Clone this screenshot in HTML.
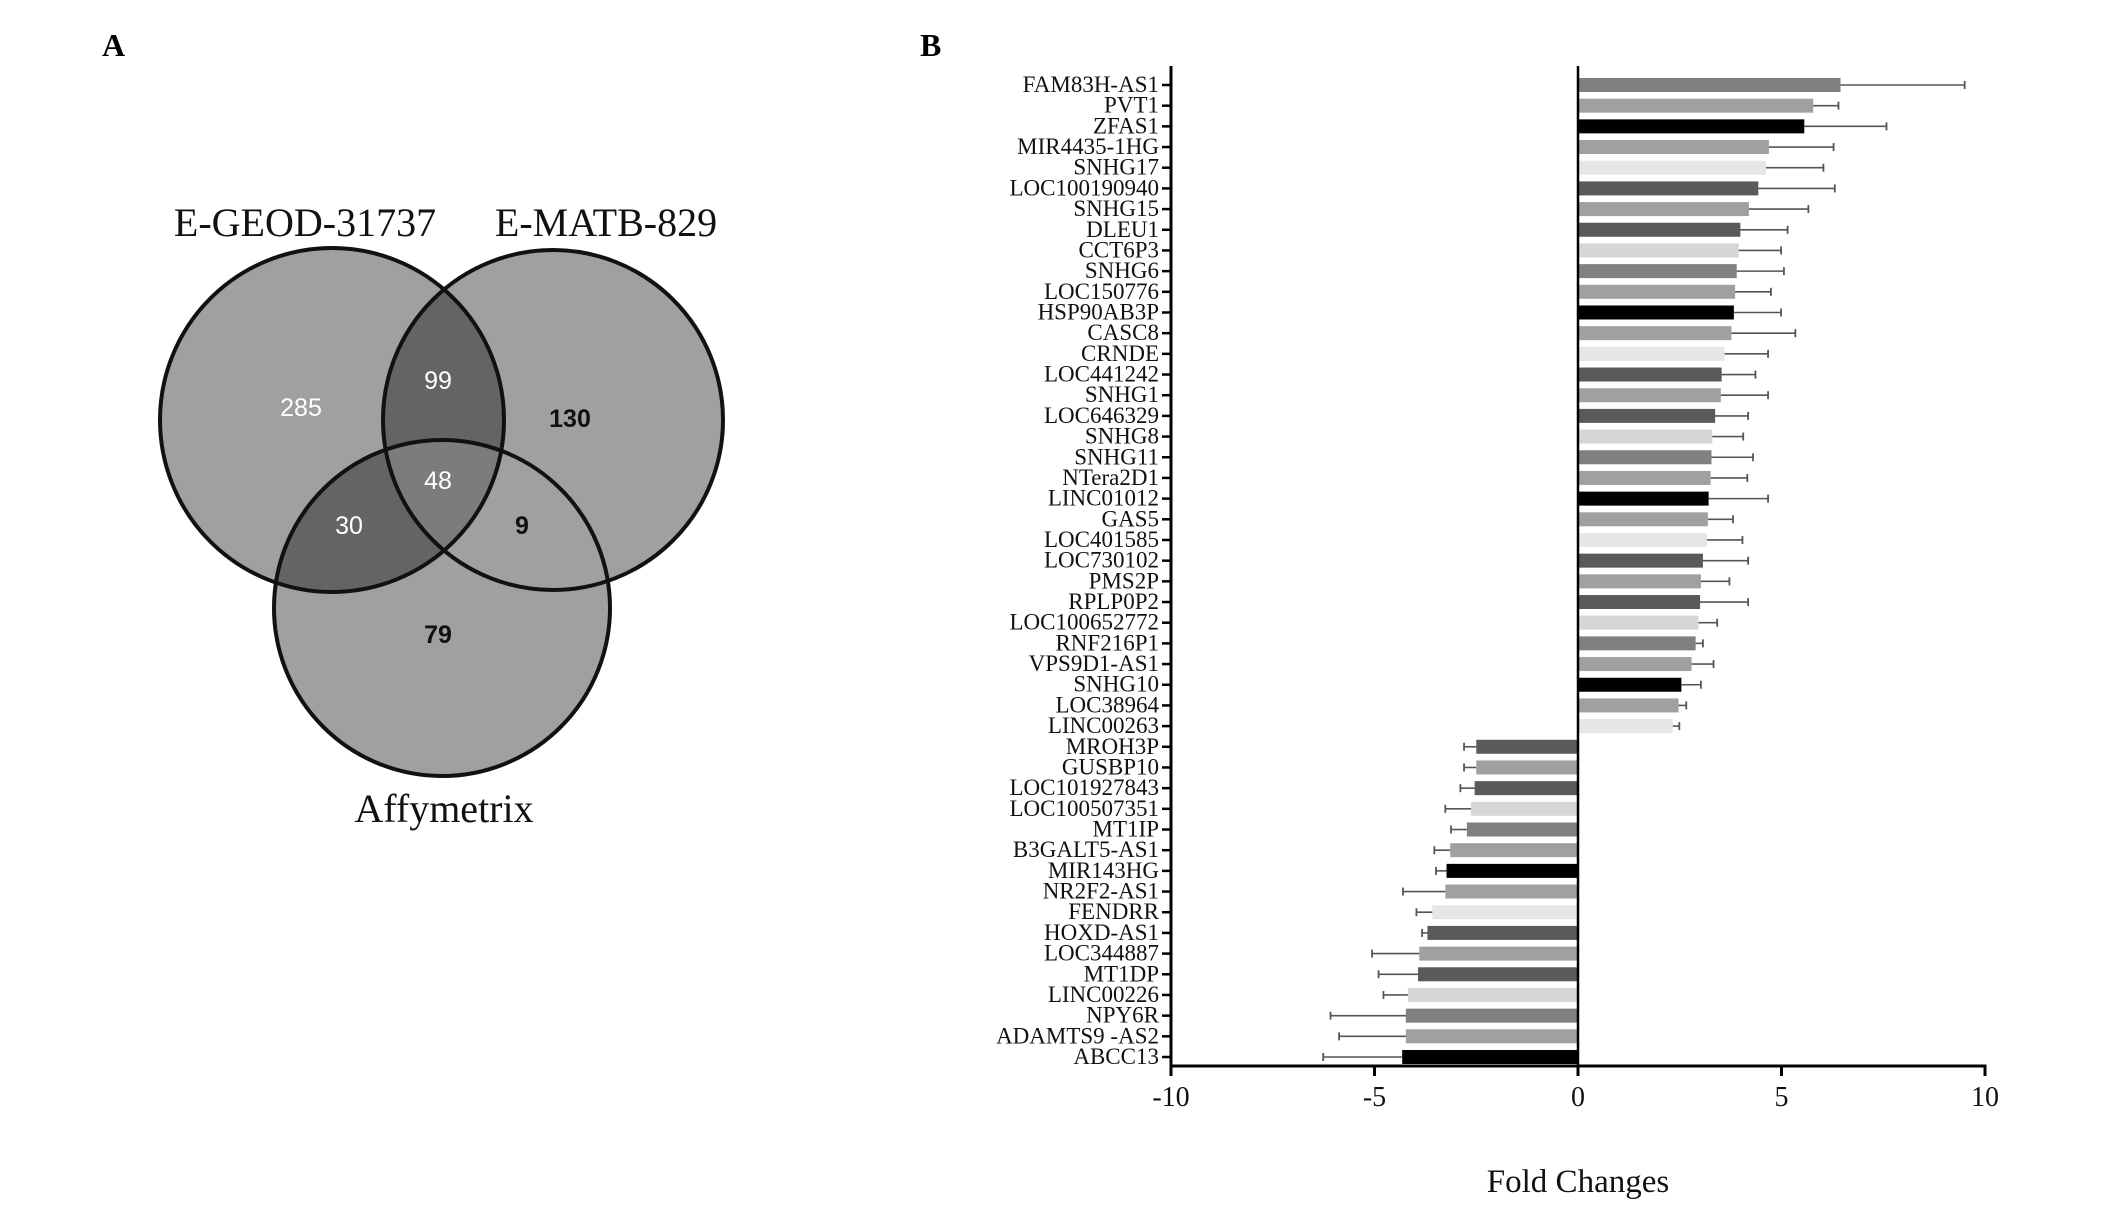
<!DOCTYPE html>
<html><head><meta charset="utf-8"><style>
html,body{margin:0;padding:0;background:#fff}
svg{display:block}
</style></head><body>
<svg id="fig" width="2126" height="1218" viewBox="0 0 2126 1218" xmlns="http://www.w3.org/2000/svg">
<rect width="2126" height="1218" fill="#fff"/>
<text x="102" y="56" font-family="Liberation Serif, serif" font-weight="bold" font-size="32">A</text>
<text x="920" y="56" font-family="Liberation Serif, serif" font-weight="bold" font-size="32">B</text>
<g>
<defs>
<clipPath id="cL"><circle cx="332" cy="420" r="172"/></clipPath>
<clipPath id="cR"><circle cx="553" cy="420" r="170"/></clipPath>
<clipPath id="cB"><circle cx="442" cy="608" r="168"/></clipPath>
</defs>
<circle cx="332" cy="420" r="172" fill="#a0a0a0"/>
<circle cx="553" cy="420" r="170" fill="#a0a0a0"/>
<circle cx="442" cy="608" r="168" fill="#a0a0a0"/>
<g clip-path="url(#cL)"><circle cx="553" cy="420" r="170" fill="#646464"/><circle cx="442" cy="608" r="168" fill="#646464"/></g>
<g clip-path="url(#cL)"><g clip-path="url(#cR)"><circle cx="442" cy="608" r="168" fill="#7c7c7c"/></g></g>
<circle cx="332" cy="420" r="172" fill="none" stroke="#111" stroke-width="4"/>
<circle cx="553" cy="420" r="170" fill="none" stroke="#111" stroke-width="4"/>
<circle cx="442" cy="608" r="168" fill="none" stroke="#111" stroke-width="4"/>
<g font-family="Liberation Serif, serif" font-size="40" text-anchor="middle" fill="#111">
<text x="305" y="236">E-GEOD-31737</text>
<text x="606" y="236">E-MATB-829</text>
<text x="444" y="822">Affymetrix</text>
</g>
<g font-family="Liberation Sans, sans-serif" font-size="25" text-anchor="middle" dominant-baseline="central">
<text x="301" y="408" fill="#fff">285</text>
<text x="438" y="381" fill="#fff">99</text>
<text x="570" y="419" fill="#111" font-weight="bold">130</text>
<text x="438" y="481" fill="#fff">48</text>
<text x="349" y="526" fill="#fff">30</text>
<text x="522" y="526" fill="#111" font-weight="bold">9</text>
<text x="438" y="635" fill="#111" font-weight="bold">79</text>
</g>
</g>
<g id="chart"></g>
</svg>
<script>
const genes = ["FAM83H-AS1","PVT1","ZFAS1","MIR4435-1HG","SNHG17","LOC100190940","SNHG15","DLEU1","CCT6P3","SNHG6","LOC150776","HSP90AB3P","CASC8","CRNDE","LOC441242","SNHG1","LOC646329","SNHG8","SNHG11","NTera2D1","LINC01012","GAS5","LOC401585","LOC730102","PMS2P","RPLP0P2","LOC100652772","RNF216P1","VPS9D1-AS1","SNHG10","LOC38964","LINC00263","MROH3P","GUSBP10","LOC101927843","LOC100507351","MT1IP","B3GALT5-AS1","MIR143HG","NR2F2-AS1","FENDRR","HOXD-AS1","LOC344887","MT1DP","LINC00226","NPY6R","ADAMTS9 -AS2","ABCC13"];
const foldValues = [6.45,5.78,5.56,4.69,4.62,4.43,4.2,3.99,3.95,3.9,3.86,3.83,3.77,3.6,3.53,3.51,3.37,3.3,3.28,3.26,3.21,3.19,3.17,3.07,3.02,3.0,2.96,2.89,2.79,2.54,2.47,2.33,-2.5,-2.5,-2.54,-2.63,-2.73,-3.14,-3.23,-3.26,-3.58,-3.7,-3.9,-3.93,-4.18,-4.23,-4.23,-4.32];
const errorEnds = [9.5,6.4,7.58,6.28,6.03,6.31,5.66,5.15,4.99,5.06,4.74,4.99,5.34,4.67,4.36,4.67,4.18,4.06,4.3,4.16,4.67,3.81,4.04,4.18,3.72,4.18,3.42,3.07,3.33,3.02,2.66,2.49,-2.8,-2.8,-2.89,-3.26,-3.12,-3.53,-3.49,-4.3,-3.97,-3.83,-5.06,-4.9,-4.78,-6.08,-5.87,-6.26];
const xTicks = [-10,-5,0,5,10];
const xTickLabels = ["-10","-5","0","5","10"];
const palette = ["#808080","#a0a0a0","#000000","#a0a0a0","#e6e6e6","#5a5a5a","#a0a0a0","#5a5a5a","#d6d6d6"];

const NS = "http://www.w3.org/2000/svg";
const g = document.getElementById('chart');
const X0 = 1578, PX = 40.7, axisLeft = 1171, axisBottom = 1066, axisTop = 66;
const firstY = 85, step = (1057 - 85) / (genes.length - 1), barH = 14;
function xs(v){ return X0 + v * PX; }
function ys(i){ return firstY + i * step; }
function mk(tag, attrs){ const e = document.createElementNS(NS, tag); for (const k in attrs) e.setAttribute(k, attrs[k]); g.appendChild(e); return e; }

genes.forEach((name, i) => {
  const v = foldValues[i], y = ys(i);
  const x1 = xs(Math.min(0, v)), x2 = xs(Math.max(0, v));
  const bar = mk('rect', {x: x1, y: y - barH/2, width: x2 - x1, height: barH, fill: palette[i % palette.length]});
  
  
  const ex = xs(errorEnds[i]);
  const el = mk('line', {x1: xs(v), y1: y, x2: ex, y2: y, stroke: '#555', 'stroke-width': 1.6});
  
  
  const cap = mk('line', {x1: ex, y1: y - 4, x2: ex, y2: y + 4, stroke: '#555', 'stroke-width': 1.8});
  
  
  const tk = mk('line', {x1: axisLeft - 9, y1: y, x2: axisLeft, y2: y, stroke: '#000', 'stroke-width': 2.5});
  
  
  const t = mk('text', {x: axisLeft - 12, y: y + 7, 'text-anchor': 'end', 'font-family': 'Liberation Serif, serif', 'font-size': 23, fill: '#111'});
  t.textContent = name;
  
  
});
const zl = mk('line', {x1: X0, y1: axisTop, x2: X0, y2: axisBottom, stroke: '#000', 'stroke-width': 2.5});


const ya = mk('line', {x1: axisLeft, y1: axisTop, x2: axisLeft, y2: axisBottom + 1, stroke: '#000', 'stroke-width': 3});


const xa = mk('line', {x1: axisLeft - 1.5, y1: axisBottom, x2: xs(10) + 1.5, y2: axisBottom, stroke: '#000', 'stroke-width': 3});


xTicks.forEach((v, i) => {
  const tk = mk('line', {x1: xs(v), y1: axisBottom, x2: xs(v), y2: axisBottom + 10, stroke: '#000', 'stroke-width': 3});
  
  
  const t = mk('text', {x: xs(v), y: 1106, 'text-anchor': 'middle', 'font-family': 'Liberation Serif, serif', 'font-size': 28, fill: '#111'});
  t.textContent = xTickLabels[i];
  
  
});
const xt = mk('text', {x: X0, y: 1192, 'text-anchor': 'middle', 'font-family': 'Liberation Serif, serif', 'font-size': 33, fill: '#111'});
xt.textContent = 'Fold Changes';


</script>
</body></html>
